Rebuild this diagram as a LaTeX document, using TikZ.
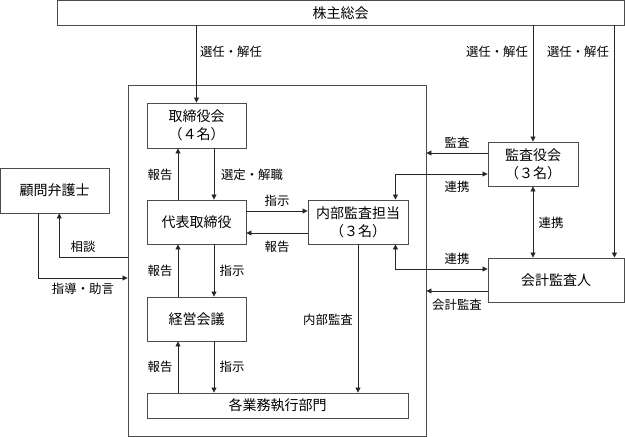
\documentclass[tikz,border=0pt]{standalone}
\usepackage{fontspec}
\setmainfont{Noto Sans CJK JP}
\usetikzlibrary{arrows.meta}
\begin{document}
\begin{tikzpicture}[x=1pt,y=-1pt,
  box/.style={draw=black!70,line width=0.9pt,fill=white,inner sep=0pt,align=center,font=\fontsize{14}{18}\selectfont},
  lbl/.style={inner sep=0pt,font=\fontsize{12.4}{14}\selectfont},
  conn/.style={draw=black!85,line width=0.8pt},
  >={Triangle[length=5pt,width=5pt]}]
\useasboundingbox (0,0) rectangle (625,437);
% frame
\node[box,minimum width=298pt,minimum height=351pt] (frame) at (277,260.5) {};
% boxes
\node[box,minimum width=567pt,minimum height=24.5pt] (top) at (340.5,12.75) {株主総会};
\node[box,minimum width=99pt,minimum height=45pt] (tk) at (196.5,125.5) {取締役会\\（４名）};
\node[box,minimum width=99pt,minimum height=44pt] (dh) at (196.5,222) {代表取締役};
\node[box,minimum width=99pt,minimum height=44pt] (kk) at (196.5,319) {経営会議};
\node[box,minimum width=261pt,minimum height=25pt] (gy) at (277.5,405.5) {各業務執行部門};
\node[box,minimum width=100pt,minimum height=44pt] (na) at (358,222) {内部監査担当\\（３名）};
\node[box,minimum width=90pt,minimum height=44pt] (ks) at (533,164) {監査役会\\（３名）};
\node[box,minimum width=136pt,minimum height=44pt] (kkn) at (556,280) {会計監査人};
\node[box,minimum width=108.5pt,minimum height=45pt] (kb) at (54.75,190.5) {顧問弁護士};
\coordinate (kt) at ([xshift=-10pt]kkn.north east);
% connectors
\draw[conn,->] (top.south -| tk.north) -- (tk.north);
\draw[conn,->] (top.south -| ks.north) -- (ks.north);
\draw[conn,->] (top.south -| kt) -- (kt);
\draw[conn,->] ([xshift=-18.5pt]dh.north) -- ([xshift=-18.5pt]tk.south);
\draw[conn,->] ([xshift=17.5pt]tk.south) -- ([xshift=17.5pt]dh.north);
\draw[conn,->] ([xshift=-18.5pt]kk.north) -- ([xshift=-18.5pt]dh.south);
\draw[conn,->] ([xshift=17.5pt]dh.south) -- ([xshift=17.5pt]kk.north);
\draw[conn,->] ([xshift=-99.5pt]gy.north) -- ([xshift=-18.5pt]kk.south);
\draw[conn,->] ([xshift=17.5pt]kk.south) -- ([xshift=-63.5pt]gy.north);
\draw[conn,->] ([yshift=11pt]dh.east) -- ([yshift=11pt]dh.east -| na.west);
\draw[conn,->] ([yshift=-11pt]na.west) -- ([yshift=-11pt]na.west -| dh.east);
\draw[conn,->] (na.south) -- (na.south |- gy.north);
\draw[conn,->] ([yshift=3.5pt]frame.west) -| ([xshift=4.5pt]kb.south);
\draw[conn,->] ([xshift=-16.5pt]kb.south) |- ([yshift=-17.5pt]frame.west);
\draw[conn,->] ([yshift=11pt]ks.west) -- ([yshift=11pt]ks.west -| frame.east);
\draw[conn,<->] ([xshift=-13pt]na.north east) |- ([yshift=-10pt]ks.west);
\draw[conn,<->] (ks.south) -- (ks.south |- kkn.north);
\draw[conn,<->] ([xshift=-13pt]na.south east) |- ([yshift=11pt]kkn.west);
\draw[conn,->] ([yshift=-11pt]kkn.west) -- ([yshift=-11pt]kkn.west -| frame.east);
% labels
\node[lbl] (l1) at (231,52) {選任・解任};
\node[lbl] (l2) at (497,52) {選任・解任};
\node[lbl] (l3) at (578,52) {選任・解任};
\node[lbl] (l4) at (160,175) {報告};
\node[lbl] (l5) at (252,175) {選定・解職};
\node[lbl] (l6) at (277,201) {指示};
\node[lbl] (l7) at (277,247) {報告};
\node[lbl] (l8) at (83,247) {相談};
\node[lbl] (l9) at (83,289) {指導・助言};
\node[lbl] (l10) at (160,271) {報告};
\node[lbl] (l11) at (232,271) {指示};
\node[lbl] (l12) at (160,367) {報告};
\node[lbl] (l13) at (232,367) {指示};
\node[lbl] (l14) at (328,320) {内部監査};
\node[lbl] (l15) at (457,143) {監査};
\node[lbl] (l16) at (457,187) {連携};
\node[lbl] (l17) at (551,223) {連携};
\node[lbl] (l18) at (457,259) {連携};
\node[lbl] (l19) at (457,305) {会計監査};
\end{tikzpicture}
\end{document}
